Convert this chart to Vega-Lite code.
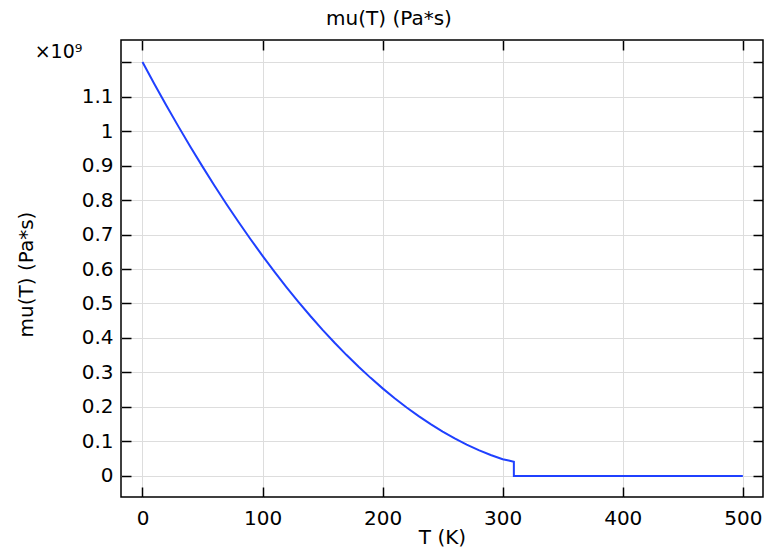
{
  "$schema": "https://vega.github.io/schema/vega-lite/v6.json",
  "width": 642,
  "height": 457,
  "autosize": "none",
  "padding": {"left": 121, "top": 40, "right": 2, "bottom": 60},
  "background": "white",
  "title": {"text": "mu(T) (Pa*s)", "font": "DejaVu Sans", "fontSize": 20, "fontWeight": "normal", "color": "black", "dx": -53, "offset": 10},
  "config": {
    "view": {"stroke": "black", "strokeWidth": 1.5},
    "axis": {
      "domain": false,
      "tickColor": "black",
      "tickWidth": 1.5,
      "tickSize": -10,
      "labelFont": "DejaVu Sans",
      "labelFontSize": 20,
      "labelColor": "black",
      "titleFont": "DejaVu Sans",
      "titleFontSize": 20,
      "titleFontWeight": "normal",
      "titleColor": "black",
      "gridColor": "#dddddd",
      "gridWidth": 1
    }
  },
  "data": {"values": [
    {"T": 0, "mu": 1200000000},
    {"T": 10, "mu": 1135800000},
    {"T": 20, "mu": 1073400000},
    {"T": 30, "mu": 1012700000},
    {"T": 40, "mu": 953800000},
    {"T": 50, "mu": 896800000},
    {"T": 60, "mu": 841400000},
    {"T": 70, "mu": 787900000},
    {"T": 80, "mu": 736200000},
    {"T": 90, "mu": 686200000},
    {"T": 100, "mu": 638000000},
    {"T": 110, "mu": 591600000},
    {"T": 120, "mu": 547000000},
    {"T": 130, "mu": 504100000},
    {"T": 140, "mu": 463000000},
    {"T": 150, "mu": 423700000},
    {"T": 160, "mu": 386200000},
    {"T": 170, "mu": 350500000},
    {"T": 180, "mu": 316600000},
    {"T": 190, "mu": 284400000},
    {"T": 200, "mu": 254000000},
    {"T": 210, "mu": 225400000},
    {"T": 220, "mu": 198600000},
    {"T": 230, "mu": 173500000},
    {"T": 240, "mu": 150200000},
    {"T": 250, "mu": 128700000},
    {"T": 260, "mu": 109000000},
    {"T": 270, "mu": 91100000},
    {"T": 280, "mu": 75000000},
    {"T": 290, "mu": 60800000},
    {"T": 300, "mu": 48500000},
    {"T": 305, "mu": 45000000},
    {"T": 309.3, "mu": 41500000},
    {"T": 309.3, "mu": 0},
    {"T": 400, "mu": 0},
    {"T": 500, "mu": 0}
  ]},
  "layer": [
    {
      "mark": {"type": "line", "color": "#1f40ff", "strokeWidth": 2, "clip": true},
      "encoding": {
        "x": {"field": "T", "type": "quantitative",
              "scale": {"domain": [-17.9, 516.8], "nice": false, "zero": false},
              "axis": {"orient": "bottom", "values": [0, 100, 200, 300, 400, 500], "title": "T (K)", "labelPadding": 21, "titlePadding": -1}},
        "y": {"field": "mu", "type": "quantitative",
              "scale": {"domain": [-60900000, 1263800000], "nice": false, "zero": false},
              "axis": {"orient": "left",
                       "values": [0, 100000000, 200000000, 300000000, 400000000, 500000000, 600000000, 700000000, 800000000, 900000000, 1000000000, 1100000000, 1200000000],
                       "labelExpr": "datum.value > 1150000000 ? '' : format(datum.value / 1000000000, '~g')",
                       "title": "mu(T) (Pa*s)", "labelPadding": 18,
                       "titleAngle": -90, "titleBaseline": "alphabetic", "titleAlign": "center", "titleX": -89, "titleY": 234}},
        "order": {"value": null}
      }
    },
    {
      "mark": {"type": "line", "opacity": 0},
      "encoding": {
        "x": {"field": "T", "type": "quantitative",
              "axis": {"orient": "top", "values": [0, 100, 200, 300, 400, 500], "labels": false, "grid": false, "title": null}},
        "y": {"field": "mu", "type": "quantitative",
              "axis": {"orient": "right",
                       "values": [0, 100000000, 200000000, 300000000, 400000000, 500000000, 600000000, 700000000, 800000000, 900000000, 1000000000, 1100000000, 1200000000],
                       "labels": false, "grid": false, "title": null}},
        "order": {"value": null}
      }
    },
    {
      "mark": {"type": "line", "opacity": 0},
      "encoding": {
        "x": {"field": "T", "type": "quantitative", "axis": null},
        "y": {"field": "mu", "type": "quantitative",
              "axis": {"orient": "left", "ticks": false, "labels": false, "grid": false,
                       "title": "×10⁹", "titleAngle": 0, "titleAlign": "center", "titleBaseline": "alphabetic",
                       "titleX": -63, "titleY": 17, "titleFontSize": 19}},
        "order": {"value": null}
      }
    }
  ],
  "resolve": {"axis": {"x": "independent", "y": "independent"}}
}
